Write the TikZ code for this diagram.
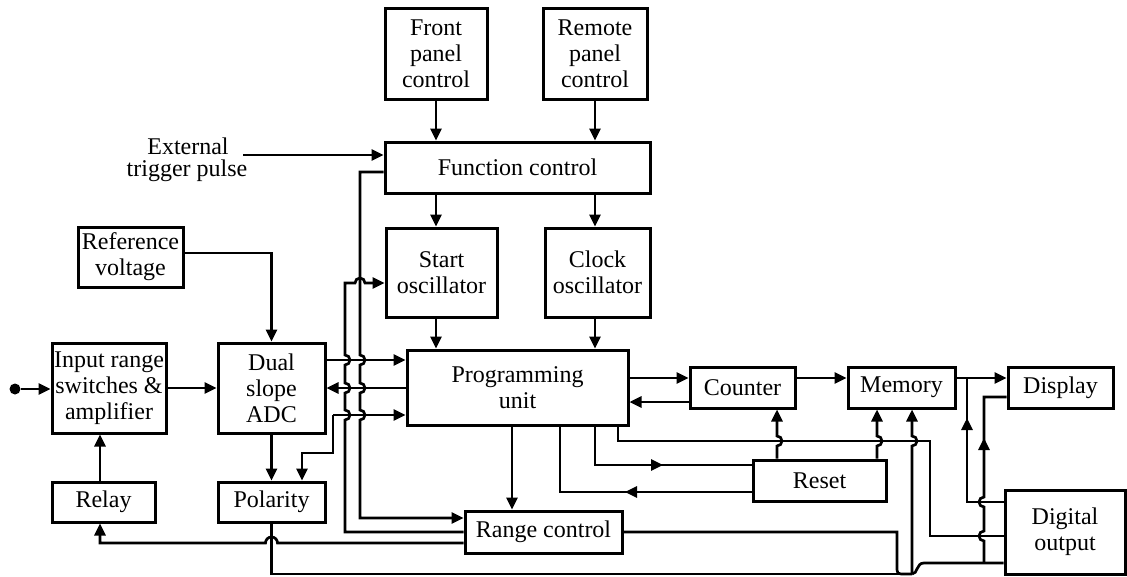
\documentclass[tikz,border=0pt]{standalone}
\usepackage{fontspec}
\setmainfont{Liberation Serif}
\usetikzlibrary{arrows.meta}
\begin{document}
\begin{tikzpicture}[x=1pt,y=-1pt,
  box/.style={draw, line width=3pt, inner sep=0pt, align=center, font=\fontsize{24}{26}\selectfont},
  ln/.style={line width=2.7pt},
  arr/.style={ln, -{Triangle[length=12pt,width=11pt]}},
  lbl/.style={font=\fontsize{24}{26}\selectfont, inner sep=0pt}]
\useasboundingbox[fill=white] (0,0) rectangle (1127,576);

% boxes
\node[box, minimum width=102pt, minimum height=91pt] (front) at (436,53.5) {Front\\panel\\control};
\node[box, minimum width=104pt, minimum height=91pt] (remote) at (595,53.5) {Remote\\panel\\control};
\node[box, minimum width=265pt, minimum height=51pt] (func) at (517.5,167.5) {Function control};
\node[box, minimum width=111pt, minimum height=89pt] (start) at (441.5,272.5) {Start\\oscillator};
\node[box, minimum width=105pt, minimum height=89pt] (clock) at (597.5,272.5) {Clock\\oscillator};
\node[box, minimum width=105pt, minimum height=60pt] (refv) at (130.5,257) {Reference\\voltage};
\node[box, minimum width=114pt, minimum height=90pt] (inrange) at (109,388) {Input range\\switches \&\\amplifier};
\node[box, minimum width=107pt, minimum height=90pt] (adc) at (271.5,388) {Dual\\slope\\ADC};
\node[box, minimum width=221pt, minimum height=75pt] (prog) at (517.5,387.5) {Programming\\unit};
\node[box, minimum width=105pt, minimum height=41pt] (counter) at (742.5,387.5) {Counter};
\node[box, minimum width=107pt, minimum height=41pt] (memory) at (901.5,387.5) {Memory};
\node[box, minimum width=105pt, minimum height=41pt] (display) at (1060.5,387.5) {Display};
\node[box, minimum width=103pt, minimum height=40pt] (relay) at (103.5,502) {Relay};
\node[box, minimum width=107pt, minimum height=40pt] (polarity) at (271.5,502) {Polarity};
\node[box, minimum width=133pt, minimum height=41pt] (reset) at (819.5,480.5) {Reset};
\node[box, minimum width=157pt, minimum height=42pt] (range) at (543.5,532) {Range control};
\node[box, minimum width=120pt, minimum height=84pt] (digout) at (1065,532) {Digital\\output};

% labels
\node[lbl] (extlbl) at (188,146) {External};
\node[lbl] (triglbl) at (187,171) {trigger pulse};
\node[circle, fill, inner sep=0pt, minimum size=11pt] (indot) at (15,389) {};

% helper coordinates
\coordinate (ext) at (243,155);
\coordinate (br) at (333,415);
\coordinate (jn) at (912,574);
\foreach \v in {100,302,345,360,512,560,595,618,777,877,912,930,967,984}{\coordinate (x\v) at (\v,0);}
\foreach \v in {172,283,360,378,388,397,402,441,453,465,492,502,518,536,543,563,574}{\coordinate (y\v) at (0,\v);}

% top section
\draw[arr] (ext) -- (ext -| func.west);
\draw[arr] (front.south) -- (front.south |- func.north);
\draw[arr] (remote.south) -- (remote.south |- func.north);
\draw[arr] (front.south |- func.south) -- (front.south |- start.north);
\draw[arr] (remote.south |- func.south) -- (remote.south |- clock.north);
\draw[arr] (front.south |- start.south) -- (front.south |- prog.north);
\draw[arr] (remote.south |- clock.south) -- (remote.south |- prog.north);

% left section
\draw[arr] ([yshift=4pt]refv.east) -| (adc.north);
\draw[arr] (indot) -- (indot -| inrange.west);
\draw[arr] (inrange) -- (adc);
\draw[arr] (relay.north -| x100) -- (inrange.south -| x100);
\draw[arr] (range.west |- y543) -- (277.5,543) arc[start angle=0, end angle=180, radius=6pt] -- (x100 |- y543) -- (relay.south -| x100);
\draw[arr] (adc.south) -- (polarity.north);
\draw[arr] (adc.east |- y360) -- (prog.west |- y360);
\draw[arr] (prog.west |- y388) -- (adc.east |- y388);
\draw[arr] (br) -- (prog.west |- br);
\draw[arr] (br) -- (br |- y453) -- (x302 |- y453) -- (polarity.north -| x302);

% function control -> range control (with hops)
\draw[arr] (func.west |- y172) -- (360,172) -- (360,355)
  arc[start angle=90, end angle=-90, radius=5pt] -- (360,383)
  arc[start angle=90, end angle=-90, radius=5pt] -- (360,410)
  arc[start angle=90, end angle=-90, radius=5pt] -- (x360 |- y518) -- (range.west |- y518);
% range control -> start oscillator (with hops)
\draw[arr] (range.west) -- (345,532) -- (345,420)
  arc[start angle=-90, end angle=90, radius=5pt] -- (345,393)
  arc[start angle=-90, end angle=90, radius=5pt] -- (345,365)
  arc[start angle=-90, end angle=90, radius=5pt] -- (345,283) -- (355,283)
  arc[start angle=180, end angle=0, radius=5pt] -- (start.west |- y283);

% programming unit, counter, memory, display
\draw[arr] (prog.east |- y378) -- (counter.west |- y378);
\draw[arr] (counter.west |- y402) -- (prog.east |- y402);
\draw[arr] (counter.east |- y378) -- (memory.west |- y378);
\draw[arr] (memory.east |- y378) -- (display.west |- y378);
\draw[arr] (prog.south -| x512) -- (range.north -| x512);

% reset
\draw[ln] (prog.south -| x595) |- (reset.west |- y465);
\draw[arr] (640,465) -- (663,465);
\draw[ln] (reset.west |- y492) -| (prog.south -| x560);
\draw[arr] (648,492) -- (625,492);
\draw[arr] (reset.north -| x777) -- (777,446) arc[start angle=-90, end angle=90, radius=5pt] -- (counter.south -| x777);
\draw[arr] (reset.north -| x877) -- (877,446) arc[start angle=-90, end angle=90, radius=5pt] -- (memory.south -| x877);

% programming unit -> digital output
\draw[ln] (prog.south -| x618) -- (x618 |- y441) -- (x930 |- y441) -- (x930 |- y536) -- (digout.west |- y536);

% polarity, range control -> junction -> digital output / memory
\draw[ln] (polarity.south) |- (jn);
\draw[ln] (range.east) -- (897,532) -- (897,566) .. controls (897,574) .. (905,574) -- (jn);
\draw[arr] (jn) -- (912,446) arc[start angle=-90, end angle=90, radius=5pt] -- (memory.south -| x912);
\draw[ln] (jn) .. controls (918,574) and (916,563) .. (924,563) -- (digout.west |- y563);

% digital output -> display
\draw[ln] (digout.west |- y502) -- (x967 |- y502) -- (x967 |- y378);
\draw[arr] (967,443) -- (967,418);
\draw[ln] (x984 |- y563) -- (984,541)
  arc[start angle=-90, end angle=-270, radius=5pt] -- (984,507)
  arc[start angle=-90, end angle=-270, radius=5pt] -- (x984 |- y397) -- (display.west |- y397);
\draw[arr] (984,463) -- (984,438);
\end{tikzpicture}
\end{document}
